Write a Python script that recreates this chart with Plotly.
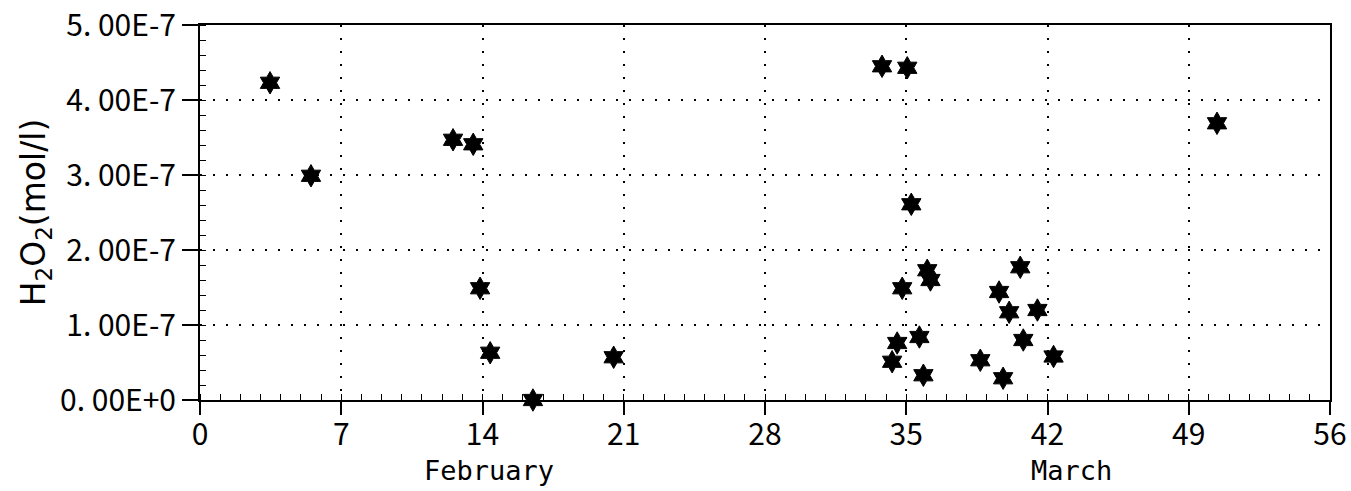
import plotly.graph_objects as go

# Day numbers (from 1 Feb) and H2O2 concentrations (mol/l)
days = [3.47, 5.5, 12.54, 13.54, 13.88, 14.38, 16.5, 20.5,
        33.8, 35.05, 35.25, 36.04, 36.2, 34.8, 34.55, 34.3, 35.65, 35.85,
        38.67, 39.8, 39.6, 40.1, 40.65, 41.5, 40.8, 42.3, 50.4]
h2o2 = [4.23e-7, 2.99e-7, 3.47e-7, 3.41e-7, 1.49e-7, 0.63e-7, 0.0, 0.57e-7,
        4.45e-7, 4.43e-7, 2.61e-7, 1.73e-7, 1.60e-7, 1.49e-7, 0.76e-7, 0.51e-7, 0.84e-7, 0.33e-7,
        0.53e-7, 0.29e-7, 1.44e-7, 1.17e-7, 1.77e-7, 1.20e-7, 0.80e-7, 0.58e-7, 3.69e-7]

x_ticks = [0, 7, 14, 21, 28, 35, 42, 49, 56]
y_ticks = [0, 1e-7, 2e-7, 3e-7, 4e-7, 5e-7]
y_ticktext = ["0. 00E+0", "1. 00E-7", "2. 00E-7", "3. 00E-7", "4. 00E-7", "5. 00E-7"]
month_labels = ["February", "March"]
month_pos = [14.3, 43.2]

tick_font = dict(family="Noto Sans CJK JP, sans-serif", size=30, color="black")

fig = go.Figure()
fig.add_trace(go.Scatter(
    x=days, y=h2o2, mode="markers",
    marker=dict(symbol="hexagram", size=17, color="black", line=dict(color="black", width=1)),
    showlegend=False, cliponaxis=False,
))

fig.update_xaxes(
    range=[0, 56], tickvals=x_ticks, ticktext=[str(v) for v in x_ticks],
    showline=True, linecolor="black", linewidth=2, mirror=True,
    ticks="outside", ticklen=13, tickwidth=2, tickcolor="black",
    minor=dict(ticks="inside", dtick=1, ticklen=6, tickwidth=1, tickcolor="black", showgrid=False),
    showgrid=True, gridcolor="black", gridwidth=2, griddash="2px,11px",
    zeroline=False, tickfont=tick_font, automargin=False, ticklabelstandoff=-6,
)
fig.update_yaxes(
    range=[0, 5.0005e-7], tickvals=y_ticks, ticktext=y_ticktext,
    showline=True, linecolor="black", linewidth=2, mirror=True,
    ticks="outside", ticklen=16, tickwidth=2, tickcolor="black",
    minor=dict(ticks="inside", dtick=2e-8, ticklen=6, tickwidth=1, tickcolor="black", showgrid=False),
    showgrid=True, gridcolor="black", gridwidth=2, griddash="2px,11px",
    zeroline=False, tickfont=tick_font, automargin=False,
    title=dict(text="H<sub>2</sub>O<sub>2</sub>(mol/l)", font=dict(family="DejaVu Sans, sans-serif", size=33, color="black"), standoff=4),
)

for lab, pos in zip(month_labels, month_pos):
    fig.add_annotation(x=pos, y=0, xref="x", yref="paper", text=lab, showarrow=False,
                       yshift=-88, font=dict(family="DejaVu Sans Mono, Liberation Mono, monospace", size=27, color="black"))

fig.update_layout(
    width=1351, height=491,
    margin=dict(l=200, r=21, t=25, b=91),
    paper_bgcolor="white", plot_bgcolor="white",
)

fig.write_html("out.html")
